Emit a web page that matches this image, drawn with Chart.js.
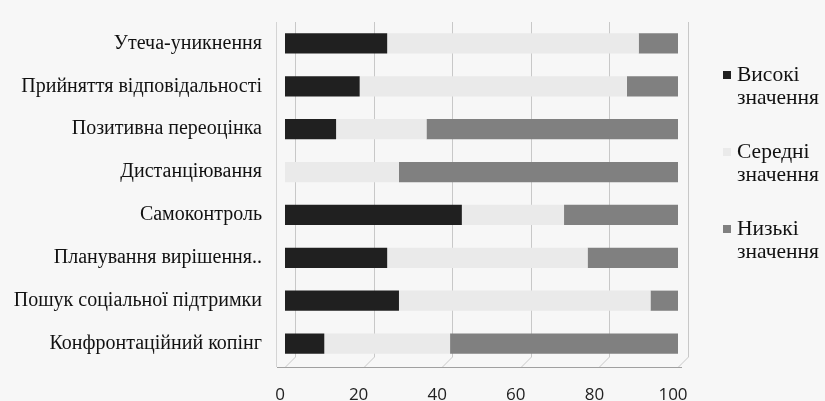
<!DOCTYPE html>
<html>
<head>
<meta charset="utf-8">
<script src="https://cdn.jsdelivr.net/npm/chart.js@4"></script>
<style>
  html, body { margin:0; padding:0; background:#f7f7f7; }
  #wrap { position:relative; width:825px; height:401px; }
  canvas { position:absolute; left:0; top:0; }
  #legend { position:absolute; left:737px; top:63px; font-family:"Liberation Serif", serif; font-size:21.5px; color:#111; line-height:23px; }
  .item { position:relative; margin-bottom:31px; }
  .sw { position:absolute; left:-14px; top:8px; width:8px; height:8px; }
</style>
</head>
<body>
<div id="wrap">
  <canvas id="c" width="825" height="401"></canvas>
  <div id="legend"></div>
</div>
<script>
const categories = [
  "Утеча-уникнення",
  "Прийняття відповідальності",
  "Позитивна переоцінка",
  "Дистанціювання",
  "Самоконтроль",
  "Планування вирішення..",
  "Пошук соціальної підтримки",
  "Конфронтаційний копінг"
];
const highValues = [26, 19, 13, 0, 45, 26, 29, 10];
const midValues  = [64, 68, 23, 29, 26, 51, 64, 32];
const lowValues  = [10, 13, 64, 71, 29, 23, 7, 58];
const seriesNames = [["Високі", "значення"], ["Середні", "значення"], ["Низькі", "значення"]];
const seriesColors = ["#202020", "#eaeaea", "#808080"];
const xTicks = [0, 20, 40, 60, 80, 100];

const datasets = [highValues, midValues, lowValues].map((d, i) => ({
  label: seriesNames[i].join(" "),
  data: d,
  backgroundColor: seriesColors[i],
  borderWidth: 0,
  barPercentage: 0.47,
  categoryPercentage: 1.0
}));

const leg = document.getElementById('legend');
seriesNames.forEach((n, i) => {
  const div = document.createElement('div');
  div.className = 'item';
  div.innerHTML = '<span class="sw" style="background:' + seriesColors[i] + '"></span>' + n.join('<br>');
  leg.appendChild(div);
});

// back-wall gridlines offset like the 3D original
const backGrid = {
  id: 'backGrid',
  beforeDatasetsDraw(chart) {
    const { ctx, chartArea: a, scales: { x } } = chart;
    const dx = 10, dy = 8;
    ctx.save();
    ctx.strokeStyle = '#c8c8c8';
    ctx.lineWidth = 1;
    xTicks.forEach(v => {
      const px = Math.round(x.getPixelForValue(v)) + 0.5;
      ctx.beginPath();
      ctx.moveTo(px + dx, a.top);
      ctx.lineTo(px + dx, a.bottom - dy);
      ctx.lineTo(px, a.bottom + 2);
      ctx.stroke();
    });
    ctx.strokeStyle = '#a0a0a0';
    ctx.beginPath();
    ctx.moveTo(a.left - 8, a.bottom + 2.5);
    ctx.lineTo(a.right + 4, a.bottom + 2.5);
    ctx.stroke();
    ctx.strokeStyle = '#d4d4d4';
    ctx.beginPath();
    ctx.moveTo(a.left - 8.5, a.top);
    ctx.lineTo(a.left - 8.5, a.bottom + 2);
    ctx.stroke();
    ctx.restore();
  }
};

new Chart(document.getElementById('c'), {
  type: 'bar',
  data: { labels: categories, datasets },
  options: {
    indexAxis: 'y',
    responsive: false,
    animation: false,
    layout: { padding: { top: 22, right: 147, left: 0, bottom: 0 } },
    plugins: { legend: { display: false }, tooltip: { enabled: false } },
    scales: {
      x: {
        stacked: true,
        min: 0, max: 100,
        afterBuildTicks: (s) => { s.ticks = xTicks.map(v => ({ value: v })); },
        grid: { display: false, drawTicks: false },
        border: { display: false },
        ticks: { color: '#222', padding: 20, labelOffset: -5, font: { family: '"Open Sans", sans-serif', size: 17 } },
        afterFit: (s) => { s.height = 401 - 365; }
      },
      y: {
        stacked: true,
        grid: { display: false, drawTicks: false },
        border: { display: false },
        ticks: { color: '#111', padding: 23, font: { family: '"Liberation Serif", serif', size: 20 } },
        afterFit: (s) => { s.width = 285; s.paddingTop = 0; s.paddingBottom = 0; }
      }
    }
  },
  plugins: [backGrid]
});
</script>
</body>
</html>
